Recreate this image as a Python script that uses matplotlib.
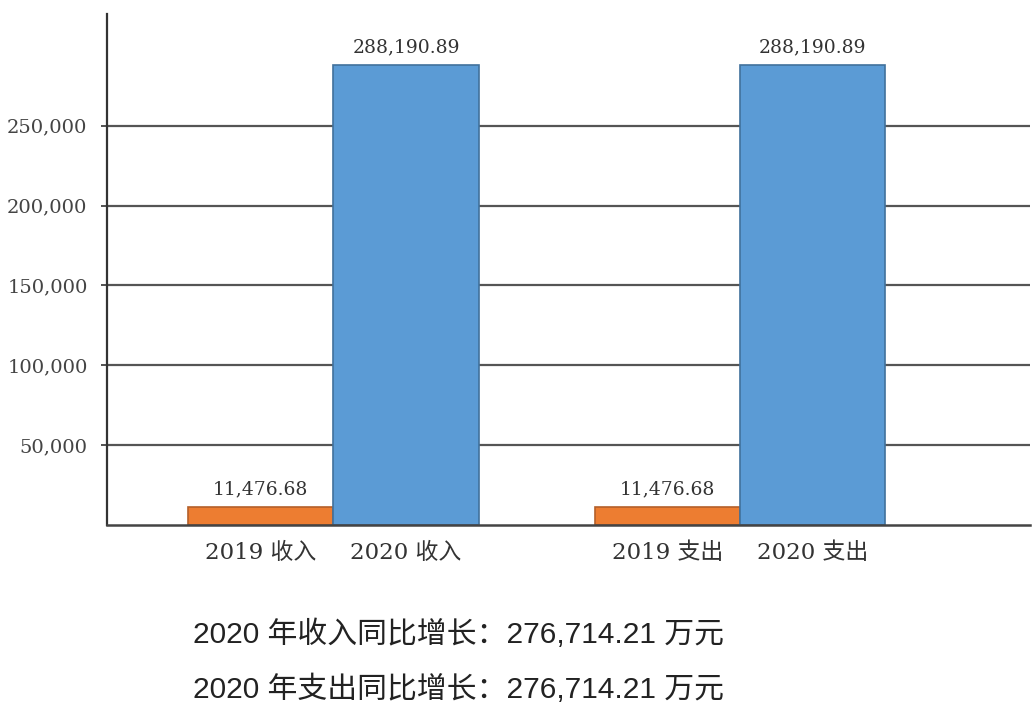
import matplotlib
matplotlib.use("Agg")
import matplotlib.pyplot as plt

# ---- data ----
categories = ["2019 收入", "2020 收入", "2019 支出", "2020 支出"]
values = [11476.68, 288190.89, 11476.68, 288190.89]
value_labels = ["11,476.68", "288,190.89", "11,476.68", "288,190.89"]
bar_colors = ["#ED7D31", "#5B9BD5", "#ED7D31", "#5B9BD5"]
edge_colors = ["#B4602A", "#41719C", "#B4602A", "#41719C"]
y_ticks = [50000, 100000, 150000, 200000, 250000]
y_tick_labels = ["50,000", "100,000", "150,000", "200,000", "250,000"]
notes = ["2020 年收入同比增长：276,714.21 万元",
         "2020 年支出同比增长：276,714.21 万元"]

serif = ["DejaVu Serif", "Noto Sans CJK SC"]
sans = ["Liberation Sans", "Noto Sans CJK SC"]

fig = plt.figure(figsize=(10.36, 7.13), dpi=100)
ax = fig.add_axes([107 / 1036, 1 - 525 / 713, 1 - 107 / 1036 - 6 / 1036, (525 - 14) / 713])

# bar positions (layout only): two groups, two adjacent bars each
group_centers = [0.0, 2.8]
width = 1.0
xpos = []
for g in group_centers:
    xpos += [g - width / 2, g + width / 2]

bars = ax.bar(xpos, values, width=width, color=bar_colors,
              edgecolor=edge_colors, linewidth=1.2, zorder=3)

for b, lab in zip(bars, value_labels):
    ax.annotate(lab, (b.get_x() + b.get_width() / 2, b.get_height()),
                xytext=(0, 6), textcoords="offset points",
                ha="center", va="bottom", fontsize=13.5,
                family=serif, color="#333333")

ax.set_xlim(-1.56, 4.80)
ax.set_ylim(0, 320000)

ax.set_yticks(y_ticks)
ax.set_yticklabels(y_tick_labels, family=serif, fontsize=14, color="#444444")
ax.set_xticks(xpos)
ax.set_xticklabels(categories, family=serif, fontsize=16.5, color="#333333")
ax.tick_params(axis="x", length=0, pad=12)
ax.tick_params(axis="y", length=4, width=1.2, pad=10, color="#333333")

ax.yaxis.grid(True, color="#555555", linewidth=1.6, zorder=0)
ax.set_axisbelow(True)

for s in ["top", "right"]:
    ax.spines[s].set_visible(False)
ax.spines["left"].set_color("#333333")
ax.spines["left"].set_linewidth(1.6)
ax.spines["bottom"].set_color("#444444")
ax.spines["bottom"].set_linewidth(1.8)
ax.spines["bottom"].set_zorder(4)

fig.text(193 / 1036, 1 - 634 / 713, notes[0], ha="left", va="center",
         fontsize=21.5, family=sans, color="#222222")
fig.text(193 / 1036, 1 - 689 / 713, notes[1], ha="left", va="center",
         fontsize=21.5, family=sans, color="#222222")

fig.savefig("out.png", dpi=100)
